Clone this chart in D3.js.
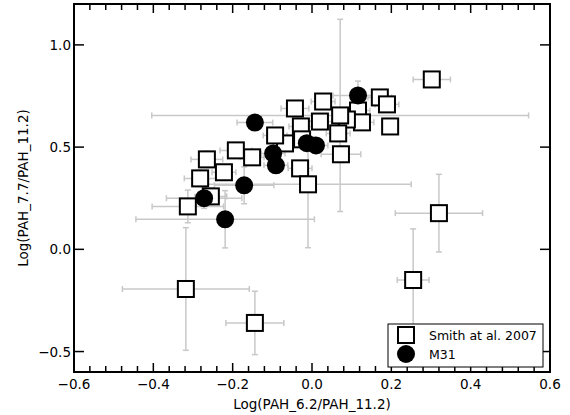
<!doctype html>
<html>
    <head>
        <meta charset="utf-8">
        <script src="https://d3js.org/d3.v7.min.js"></script>
        <style>
            body { margin: 0; background: #fff; }
            text { font-family: "DejaVu Sans", sans-serif; fill: #000; }
        </style>
    </head>
    <body>
        <div id="viz">
            <svg style="width:570px;height:415px;"></svg>
        </div>

        <script>
            // Smith et al. 2007 sample (squares)
            var smithX    = [0.302, 0.171, 0.189, 0.197, 0.116, 0.126, 0.088, 0.066, 0.071, 0.028,
                             0.020, -0.028, -0.043, -0.025, 0.073, -0.068, -0.093, -0.030, -0.010, -0.151,
                             -0.192, -0.265, -0.222, -0.282, -0.313, -0.255, 0.320, 0.255, -0.318, -0.144];
            var smithY    = [0.831, 0.743, 0.709, 0.601, 0.679, 0.621, 0.635, 0.567, 0.655, 0.723,
                             0.625, 0.601, 0.689, 0.538, 0.465, 0.518, 0.557, 0.396, 0.318, 0.450,
                             0.484, 0.440, 0.377, 0.347, 0.210, 0.259, 0.177, -0.150, -0.194, -0.360];
            var smithXErr = [0.047, 0.03, 0.03, 0.02, 0.03, 0.03, 0.03, 0.03, 0.475, 0.03,
                             0.03, 0.03, 0.035, 0.03, 0.05, 0.03, 0.03, 0.03, 0.26, 0.03,
                             0.04, 0.04, 0.03, 0.04, 0.09, 0.04, 0.11, 0.04, 0.16, 0.073];
            var smithYErr = [0.02, 0.02, 0.02, 0.02, 0.03, 0.03, 0.03, 0.04, 0.47, 0.03,
                             0.03, 0.03, 0.03, 0.03, 0.04, 0.03, 0.03, 0.03, 0.31, 0.03,
                             0.03, 0.04, 0.03, 0.04, 0.08, 0.04, 0.19, 0.25, 0.30, 0.155];

            // M31 (filled circles)
            var m31X    = [0.116, -0.144, -0.098, -0.091, -0.013, 0.010, -0.171, -0.272, -0.219];
            var m31Y    = [0.753, 0.620, 0.469, 0.411, 0.519, 0.508, 0.313, 0.250, 0.147];
            var m31XErr = [0.063, 0.045, 0.03, 0.03, 0.03, 0.03, 0.075, 0.095, 0.225];
            var m31YErr = [0.07, 0.03, 0.03, 0.03, 0.03, 0.03, 0.09, 0.05, 0.14];

            var xTicks = [-0.6, -0.4, -0.2, 0.0, 0.2, 0.4, 0.6];
            var yTicks = [-0.5, 0.0, 0.5, 1.0];
            var legendLabels = ["Smith at al. 2007", "M31"];

            var smith = smithX.map((x, i) => ({x: x, y: smithY[i], xe: smithXErr[i], ye: smithYErr[i]}));
            var m31 = m31X.map((x, i) => ({x: x, y: m31Y[i], xe: m31XErr[i], ye: m31YErr[i]}));

            var pLeft = 74, pRight = 550, pTop = 4, pBottom = 372;
            var xScale = d3.scaleLinear().domain([-0.6, 0.6]).range([pLeft, pRight]);
            var yScale = d3.scaleLinear().domain([-0.6, 1.2]).range([pBottom, pTop]);

            var svg = d3.select("svg");

            var fmt = d3.format(".1f");
            var minorX = d3.range(-0.6, 0.6001, 0.04).filter(v => Math.abs(Math.round(v * 5) - v * 5) > 1e-6);

            // error bars
            var errG = svg.append("g").attr("stroke", "#c8c8c8").attr("stroke-width", 1.5).attr("fill", "none");
            function drawErr(data) {
                data.forEach(function(d) {
                    var cx = xScale(d.x), cy = yScale(d.y);
                    var x0 = xScale(d.x - d.xe), x1 = xScale(d.x + d.xe);
                    var y0 = yScale(d.y - d.ye), y1 = yScale(d.y + d.ye);
                    errG.append("line").attr("x1", x0).attr("x2", x1).attr("y1", cy).attr("y2", cy);
                    errG.append("line").attr("x1", cx).attr("x2", cx).attr("y1", y0).attr("y2", y1);
                    [x0, x1].forEach(x => errG.append("line").attr("x1", x).attr("x2", x).attr("y1", cy - 3).attr("y2", cy + 3));
                    [y0, y1].forEach(y => errG.append("line").attr("x1", cx - 3).attr("x2", cx + 3).attr("y1", y).attr("y2", y));
                });
            }
            drawErr(smith);
            drawErr(m31);

            svg.append("g").selectAll("rect")
                .data(smith)
                .enter()
                .append("rect")
                    .attr("x", d => xScale(d.x) - 8)
                    .attr("y", d => yScale(d.y) - 8)
                    .attr("width", 16)
                    .attr("height", 16)
                    .style("fill", "#fff")
                    .style("stroke", "#000")
                    .style("stroke-width", 2);

            svg.append("g").selectAll("circle")
                .data(m31)
                .enter()
                .append("circle")
                    .attr("cx", d => xScale(d.x))
                    .attr("cy", d => yScale(d.y))
                    .attr("r", 9)
                    .style("fill", "#000");

            // axes with inward ticks
            var axG = svg.append("g").attr("stroke", "#000").attr("stroke-width", 1.5);
            xTicks.forEach(function(v) {
                var x = xScale(v);
                axG.append("line").attr("x1", x).attr("x2", x).attr("y1", pBottom).attr("y2", pBottom - 9);
                axG.append("line").attr("x1", x).attr("x2", x).attr("y1", pTop).attr("y2", pTop + 9);
                svg.append("text").attr("x", x).attr("y", pBottom + 17).attr("text-anchor", "middle")
                    .style("font-size", "13.5px").text(fmt(v));
            });
            minorX.forEach(function(v) {
                var x = xScale(v);
                axG.append("line").attr("x1", x).attr("x2", x).attr("y1", pBottom).attr("y2", pBottom - 6);
                axG.append("line").attr("x1", x).attr("x2", x).attr("y1", pTop).attr("y2", pTop + 6);
            });
            yTicks.forEach(function(v) {
                var y = yScale(v);
                axG.append("line").attr("x1", pLeft).attr("x2", pLeft + 10).attr("y1", y).attr("y2", y);
                axG.append("line").attr("x1", pRight).attr("x2", pRight - 10).attr("y1", y).attr("y2", y);
                svg.append("text").attr("x", pLeft - 3).attr("y", y + 5).attr("text-anchor", "end")
                    .style("font-size", "13.5px").text(fmt(v));
            });
            svg.append("rect").attr("x", pLeft).attr("y", pTop).attr("width", pRight - pLeft).attr("height", pBottom - pTop)
                .style("fill", "none").style("stroke", "#000").style("stroke-width", 2);

            svg.append("text").attr("x", (pLeft + pRight) / 2).attr("y", 409).attr("text-anchor", "middle")
                .style("font-size", "13.5px").text("Log(PAH_6.2/PAH_11.2)");
            svg.append("text").attr("transform", "translate(28," + (pTop + pBottom) / 2 + ") rotate(-90)")
                .attr("text-anchor", "middle").style("font-size", "13.5px").text("Log(PAH_7.7/PAH_11.2)");

            // legend
            var lg = svg.append("g");
            lg.append("rect").attr("x", 388).attr("y", 324).attr("width", 155).attr("height", 43)
                .style("fill", "#fff").style("stroke", "#000").style("stroke-width", 1);
            lg.append("rect").attr("x", 398).attr("y", 327).attr("width", 16).attr("height", 16)
                .style("fill", "#fff").style("stroke", "#000").style("stroke-width", 2);
            lg.append("circle").attr("cx", 406).attr("cy", 354).attr("r", 9).style("fill", "#000");
            lg.selectAll("text.leg").data(legendLabels).enter().append("text")
                .attr("class", "leg")
                .attr("x", 429).attr("y", (d, i) => 340 + i * 19)
                .style("font-size", "12.5px").text(d => d);
        </script>
    </body>
</html>
